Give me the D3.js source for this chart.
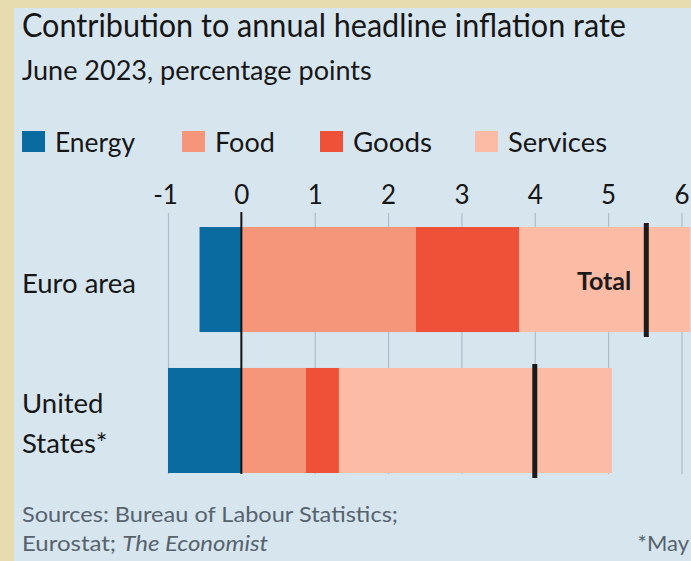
<!DOCTYPE html>
<html><head><meta charset="utf-8">
<script src="https://cdn.jsdelivr.net/npm/d3@7"></script>
<style>html,body{margin:0;padding:0;background:#e7dcb0;} svg{display:block;}</style>
</head><body>
<svg id="chart" width="691" height="561"></svg>
<script>
const categories = ["Euro area", "United States*"];
const categoryLines = [["Euro area"], ["United", "States*"]];
const seriesNames = ["Energy", "Food", "Goods", "Services"];
const energy = [-0.57, -1.0];
const food = [2.38, 0.88];
const goods = [1.41, 0.45];
const services = [2.33, 3.72];
const totals = [5.52, 4.0];
const tickValues = [-1, 0, 1, 2, 3, 4, 5, 6];
const colors = ["#0a6ba1", "#f5957a", "#ee5138", "#fbbba5"];

const svg = d3.select("#chart");
const W = 691, H = 561;
const font = "Lato, 'Open Sans', sans-serif";

// background frame
svg.append("rect").attr("width", W).attr("height", H).attr("fill", "#e7dcb0");
svg.append("rect").attr("x", 14).attr("y", 8).attr("width", W - 14).attr("height", H - 8).attr("fill", "#d7e5ef");

function fit(sel, w) {
  sel.each(function(){
    const t = d3.select(this);
    const len = this.getComputedTextLength();
    if (Math.abs(len - w) > 1) t.attr("textLength", w).attr("lengthAdjust", "spacingAndGlyphs");
  });
  return sel;
}

// titles
fit(svg.append("text").attr("x", 22).attr("y", 37).attr("font-family", font)
  .attr("font-size", 33).attr("fill", "#161616").text("Contribution to annual headline inflation rate"), 604);
fit(svg.append("text").attr("x", 22).attr("y", 80).attr("font-family", font)
  .attr("font-size", 27).attr("fill", "#161616").text("June 2023, percentage points"), 350);

// legend
const legendX = [22, 182, 320, 475];
const legendW = [80, 59, 79, 99];
seriesNames.forEach((n, i) => {
  svg.append("rect").attr("x", legendX[i]).attr("y", 131).attr("width", 23).attr("height", 21).attr("fill", colors[i]);
  fit(svg.append("text").attr("x", legendX[i] + 33).attr("y", 152).attr("font-family", font)
    .attr("font-size", 27).attr("fill", "#161616").text(n), legendW[i]);
});

// scales
const x = d3.scaleLinear().domain([-1, 6]).range([168, 681.5]);
const y = d3.scaleBand().domain(categories).range([227, 473]).paddingInner(0.255).paddingOuter(0);

// tick labels via axis
const axis = d3.axisTop(x).tickValues(tickValues).tickFormat(d => String(d)).tickSize(0).tickPadding(0);
const gAxis = svg.append("g").attr("transform", "translate(0,204)").call(axis);
gAxis.select(".domain").remove();
gAxis.selectAll("text").attr("font-family", font).attr("font-size", 26).attr("fill", "#161616").attr("dy", 0);
gAxis.selectAll(".tick").filter(d => d < 0).select("text").attr("dx", -3);

// gridlines
const grid = d3.axisBottom(x).tickValues(tickValues.filter(v => v !== 0)).tickFormat("").tickSize(474 - 213);
const gGrid = svg.append("g").attr("transform", "translate(0,213)").call(grid);
gGrid.select(".domain").remove();
gGrid.selectAll("line").attr("stroke", "#aebdc9").attr("stroke-width", 1.2);

// stacked bars
const rows = categories.map((c, i) => ({cat: c, vals: [energy[i], food[i], goods[i], services[i]], total: totals[i]}));
rows.forEach(r => {
  let pos = 0, neg = 0;
  r.vals.forEach((v, j) => {
    let x0, x1;
    if (v < 0) { x1 = neg; neg += v; x0 = neg; } else { x0 = pos; pos += v; x1 = pos; }
    svg.append("rect").attr("x", x(x0)).attr("y", y(r.cat))
      .attr("width", Math.max(0, Math.min(x(x1), W) - x(x0))).attr("height", y.bandwidth())
      .attr("fill", colors[j]);
  });
});

// zero line
svg.append("line").attr("x1", x(0)).attr("x2", x(0)).attr("y1", 212).attr("y2", 474)
  .attr("stroke", "#111").attr("stroke-width", 2);

// totals
rows.forEach(r => {
  svg.append("line").attr("x1", x(r.total)).attr("x2", x(r.total))
    .attr("y1", y(r.cat) - 4).attr("y2", y(r.cat) + y.bandwidth() + 5)
    .attr("stroke", "#1c1a1a").attr("stroke-width", 5);
});
svg.append("text").attr("x", x(totals[0]) - 15).attr("y", y(categories[0]) + y.bandwidth() / 2 + 10)
  .attr("text-anchor", "end").attr("font-family", font).attr("font-weight", "bold")
  .attr("font-size", 25).attr("fill", "#1c1a1a").text("Total");

// category labels
categoryLines.forEach((lines, i) => {
  const cy = y(categories[i]) + y.bandwidth() / 2;
  const lh = 40;
  lines.forEach((l, k) => {
    svg.append("text").attr("x", 22).attr("y", cy + 13 + (k - (lines.length - 1) / 2) * lh)
      .attr("font-family", font).attr("font-size", 27.5).attr("fill", "#161616").text(l);
  });
});

// footer
fit(svg.append("text").attr("x", 22).attr("y", 522).attr("font-family", font)
  .attr("font-size", 22).attr("fill", "#56636d").text("Sources: Bureau of Labour Statistics;"), 376);
const f2 = svg.append("text").attr("x", 22).attr("y", 551).attr("font-family", font)
  .attr("font-size", 22).attr("fill", "#56636d");
f2.append("tspan").text("Eurostat; ");
f2.append("tspan").attr("font-style", "italic").text("The Economist");
fit(f2, 246);
svg.append("text").attr("x", 689).attr("y", 551).attr("text-anchor", "end").attr("font-family", font)
  .attr("font-size", 22).attr("fill", "#56636d").text("*May");
</script>
</body></html>
